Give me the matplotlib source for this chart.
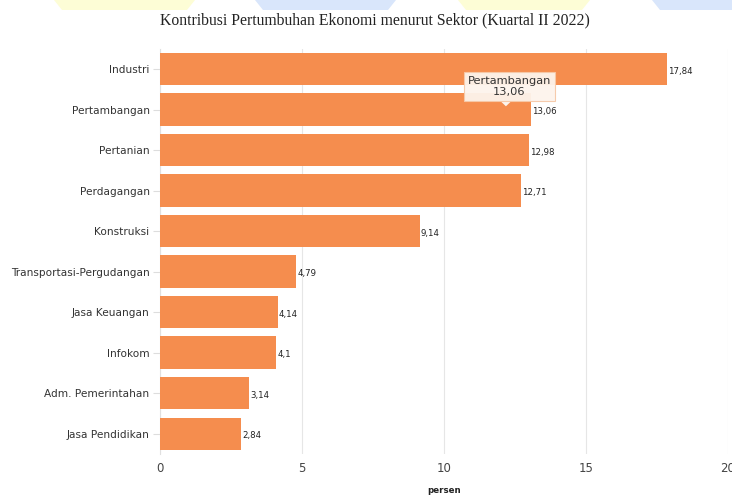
import matplotlib
matplotlib.use("Agg")
import matplotlib.pyplot as plt
from matplotlib.patches import Polygon

categories = ["Industri", "Pertambangan", "Pertanian", "Perdagangan", "Konstruksi",
              "Transportasi-Pergudangan", "Jasa Keuangan", "Infokom",
              "Adm. Pemerintahan", "Jasa Pendidikan"]
values = [17.84, 13.06, 12.98, 12.71, 9.14, 4.79, 4.14, 4.1, 3.14, 2.84]
xticks = [0, 5, 10, 15, 20]
title = "Kontribusi Pertumbuhan Ekonomi menurut Sektor (Kuartal II 2022)"
xlabel = "persen"

W, H = 732, 498
fig = plt.figure(figsize=(W/100, H/100), dpi=100)
ax = fig.add_axes([160/W, 1-454/H, (728-160)/W, (454-48.75)/H])

bar_color = "#F58D4E"
y = list(range(len(categories)))
ax.barh(y, values, height=0.8, color=bar_color, zorder=3)
ax.set_ylim(len(categories)-0.5, -0.5)
ax.set_xlim(0, 20)
ax.set_yticks(y)
ax.set_yticklabels(categories, fontsize=7.6, color="#333333", family="DejaVu Sans")
ax.set_xticks(xticks)
ax.set_xticklabels([str(t) for t in xticks], fontsize=8.5, color="#444444")
ax.tick_params(axis="y", length=5, color="#dddddd", pad=2.5)
ax.tick_params(axis="x", length=0, pad=6)
ax.grid(axis="x", color="#e6e6e6", linewidth=0.8, zorder=0)
for s in ["top", "right", "bottom"]:
    ax.spines[s].set_visible(False)
ax.spines["left"].set_color("#e0e0e0")
ax.set_xlabel(xlabel, fontsize=6.2, fontweight="bold", color="#222222", labelpad=8)

for yi, v in zip(y, values):
    ax.text(v + 0.05, yi + 0.05, f"{v:g}".replace(".", ","), fontsize=6.2,
            va="center", ha="left", color="#222222", zorder=4)

# Tooltip for Pertambangan
ax.text(12.3, 0.43, "Pertambangan\n13,06", ha="center", va="center", fontsize=8.2,
        color="#333333", linespacing=1.1, zorder=7,
        bbox=dict(boxstyle="square,pad=0.35", fc="#fdf4ec", ec="#f6c9a8", lw=0.8, alpha=0.95))
ax.add_patch(Polygon([[12.0, 0.8], [12.36, 0.8], [12.18, 0.92]], closed=True,
                     fc="#fdf4ec", ec="none", zorder=6))

fig.text(375/W, 1-20/H, title, ha="center", va="center", fontsize=11.3,
         family="Liberation Serif", color="#222222")

# faint header shapes
for x0, x1, c in [(58, 191, "#fdfdd6"), (259, 392, "#d9e6fb"), (462, 586, "#fdfdd6"),
                  (656, 760, "#d9e6fb")]:
    fig.patches.append(Polygon([[(x0-4)/W, 1], [(x1+4)/W, 1], [(x1-4)/W, 1-10/H], [(x0+4)/W, 1-10/H]],
                               closed=True, transform=fig.transFigure, fc=c, ec="none"))

fig.savefig("out.png", dpi=100)
